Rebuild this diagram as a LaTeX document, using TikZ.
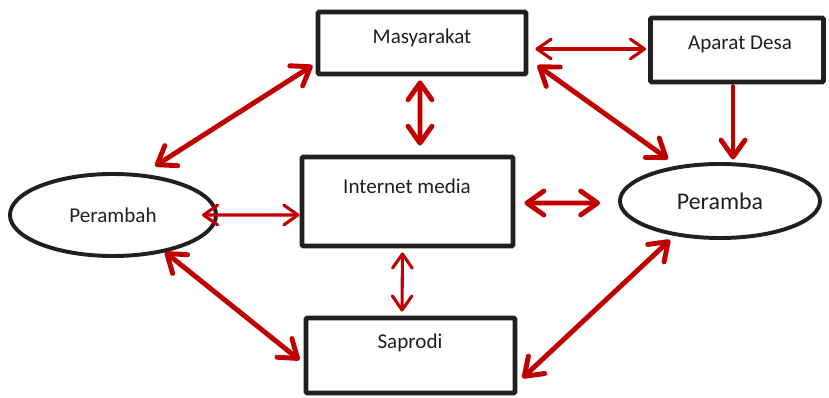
\documentclass[tikz,border=0pt]{standalone}
\usepackage{fontspec}
\setmainfont{Carlito}
\usetikzlibrary{arrows.meta,positioning,shapes.geometric,calc}
\definecolor{arrred}{HTML}{C00000}
\definecolor{ink}{HTML}{231F20}

\begin{document}
\begin{tikzpicture}[
  x=0.025cm, y=-0.025cm,
  box/.style={rectangle, draw=ink, rounded corners=1pt, line width=3.5pt,
              inner sep=0pt},
  oval/.style={ellipse, draw=ink, line width=2.8pt, inner sep=0pt,
               text=ink, font=\fontsize{15}{18}\selectfont},
  lbl/.style={text=ink, inner sep=0pt, font=\fontsize{15}{18}\selectfont},
  arr/.style={draw=arrred, line width=3.5pt, line cap=round,
              {Straight Barb[length=12pt,width=17pt,round]}-{Straight Barb[length=12pt,width=17pt,round]}},
  tarr/.style={draw=arrred, line width=2.2pt, line cap=round,
               {Straight Barb[length=10pt,width=14pt,round]}-{Straight Barb[length=10pt,width=14pt,round]}},
  sarr/.style={draw=arrred, line width=3.5pt, line cap=round,
               -{Straight Barb[length=12pt,width=17pt,round]}}
]
\useasboundingbox (0,0) rectangle (829,398);
\node[box, minimum width=5.2cm, minimum height=1.55cm] (masy) at (422,43) {};
\node[box, minimum width=4.325cm, minimum height=1.6cm] (aparat) at (737,50) {};
\node[box, minimum width=5.275cm, minimum height=2.225cm] (inet) at (407.5,201.5) {};
\node[box, minimum width=5.225cm, minimum height=1.875cm] (sap) at (410.5,355.5) {};
\node[oval, minimum width=5.15cm, minimum height=2.05cm] (perambah) at (113,215) {Perambah};
\node[oval, minimum width=5cm, minimum height=1.85cm,
      font=\fontsize{17}{20}\selectfont] (peramba) at (720,201) {Peramba};
\node[lbl] (masyText) at (422,38) {Masyarakat};
\node[lbl] (aparatText) at (740,44) {Aparat Desa};
\node[lbl] (inetText) at (407,186) {Internet media};
\node[lbl] (sapText) at (410,343) {Saprodi};
\draw[arr]  ($(perambah.north)+(42,-6)$) -- ($(masy.south west)+(-3,-11)$);
\draw[tarr] ($(masy.east)+(7,6)$) -- ($(aparat.west)+(-2,-1)$);
\draw[arr]  ($(masy.south)+(-2,4)$) -- ($(inet.north)+(12.5,-9)$);
\draw[arr]  ($(masy.south east)+(9,-11)$) -- ($(peramba.north)+(-52,-3)$);
\draw[sarr] ($(aparat.south)+(-4,2)$) -- ($(aparat.south)+(-4,75)$);
\draw[tarr] ($(perambah.east)+(-16,0)$) -- ($(inet.west)+(0,13.5)$);
\draw[arr]  ($(inet.east)+(9,1.5)$) -- ($(peramba.west)+(-18,2)$);
\draw[tarr] ($(inet.south)+(-5,4)$) -- ($(sap.north)+(-8.5,-4)$);
\draw[arr]  ($(perambah.south)+(52,-6)$) -- ($(sap.west)+(-4,4.5)$);
\draw[arr]  ($(sap.east)+(5,22.5)$) -- ($(peramba.south)+(-50,0)$);
\end{tikzpicture}
\end{document}
